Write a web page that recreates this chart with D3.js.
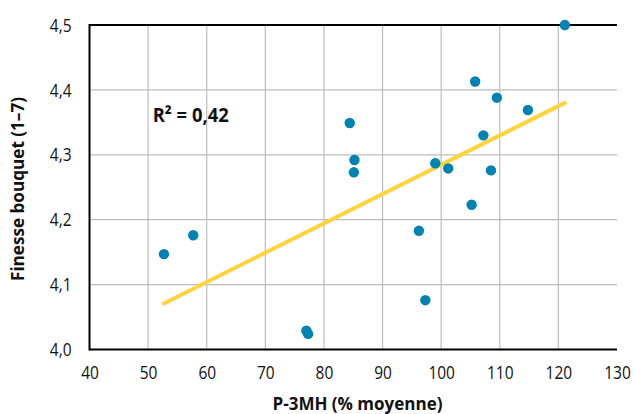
<!DOCTYPE html>
<html><head><meta charset="utf-8">
<script src="https://cdn.jsdelivr.net/npm/d3@7"></script>
<style>body{margin:0;background:#fff}text{font-family:"Open Sans","Noto Sans",sans-serif}</style>
</head><body><svg id="c" width="634" height="414"></svg>
<script>
const xValues=[121.1,105.8,109.5,114.8,107.2,84.4,85.2,85.1,99.0,101.2,108.5,105.2,96.2,97.3,52.7,57.7,77.0,77.3];
const yValues=[4.500,4.413,4.388,4.369,4.330,4.349,4.292,4.273,4.287,4.279,4.276,4.223,4.183,4.076,4.147,4.176,4.029,4.024];
const trendX=[52.7,121.1];
const trendY=[4.071,4.380];
const xTicks=[40,50,60,70,80,90,100,110,120,130];
const yTicks=[4.0,4.1,4.2,4.3,4.4,4.5];
const r2Label="R² = 0,42";
const xTitle="P-3MH (% moyenne)";
const yTitle="Finesse bouquet (1–7)";

const svg=d3.select("#c");
const x=d3.scaleLinear().domain([40,130]).range([89.5,617]);
const y=d3.scaleLinear().domain([4.0,4.5]).range([349.5,25]);
const fmt=d=>d.toFixed(1).replace(".",",");
function condense(sel,f){sel.each(function(){const w=this.getComputedTextLength();d3.select(this).attr("textLength",w*f).attr("lengthAdjust","spacingAndGlyphs");});}

// grid
svg.append("g").selectAll("line").data(xTicks.filter(d=>d>40&&d<130)).join("line")
 .attr("x1",d=>x(d)).attr("x2",d=>x(d)).attr("y1",y(4.5)).attr("y2",y(4.0))
 .attr("stroke","#bdbdbd").attr("stroke-width",1.2);
svg.append("g").selectAll("line").data(yTicks.filter(d=>d>4.0&&d<4.5)).join("line")
 .attr("x1",x(40)).attr("x2",x(130)).attr("y1",d=>y(d)).attr("y2",d=>y(d))
 .attr("stroke","#bdbdbd").attr("stroke-width",1.2);
// frame lines
svg.append("line").attr("x1",x(40)).attr("x2",x(130)).attr("y1",y(4.5)).attr("y2",y(4.5)).attr("stroke","#000").attr("stroke-width",2);
svg.append("line").attr("x1",x(40)).attr("x2",x(130)).attr("y1",y(4.0)).attr("y2",y(4.0)).attr("stroke","#000").attr("stroke-width",2);
svg.append("line").attr("x1",x(40)).attr("x2",x(40)).attr("y1",y(4.5)-1).attr("y2",y(4.0)+1).attr("stroke","#000").attr("stroke-width",2);

// axes labels via d3 axes
const xa=svg.append("g").attr("transform",`translate(0,${y(4.0)})`)
 .call(d3.axisBottom(x).tickValues(xTicks).tickSize(0).tickPadding(14).tickFormat(d3.format("d")));
xa.select(".domain").remove();
xa.selectAll("text").attr("font-size",18).attr("fill","#111").attr("dy",null).attr("y",29)
 .style("font-family","'Open Sans',sans-serif").call(condense,0.86);
const ya=svg.append("g").attr("transform",`translate(${x(40)},0)`)
 .call(d3.axisLeft(y).tickValues(yTicks).tickSize(0).tickPadding(18).tickFormat(fmt));
ya.select(".domain").remove();
ya.selectAll("text").attr("font-size",18).attr("fill","#111").attr("dy","0.34em")
 .style("font-family","'Open Sans',sans-serif").call(condense,0.86);

// trend line
svg.append("path").datum(trendX.map((d,i)=>[d,trendY[i]]))
 .attr("d",d3.line().x(d=>x(d[0])).y(d=>y(d[1])))
 .attr("stroke","#FFD43B").attr("stroke-width",4).attr("fill","none").attr("stroke-linecap","round");

// points
svg.append("g").selectAll("circle").data(xValues.map((d,i)=>[d,yValues[i]])).join("circle")
 .attr("cx",d=>x(d[0])).attr("cy",d=>y(d[1])).attr("r",5.2).attr("fill","#0083B2");

svg.append("text").attr("x",152.7).attr("y",122.3).attr("font-size",19.5).attr("font-weight","bold").attr("fill","#111")
 .text(r2Label).attr("textLength",76).attr("lengthAdjust","spacingAndGlyphs");
svg.append("text").attr("x",357.5).attr("y",410).attr("text-anchor","middle").attr("font-size",17).attr("font-weight","bold").attr("fill","#111")
 .text(xTitle).attr("textLength",170).attr("lengthAdjust","spacingAndGlyphs");
svg.append("text").attr("transform","translate(24,189) rotate(-90)").attr("text-anchor","middle").attr("font-size",18.5).attr("font-weight","bold").attr("fill","#111")
 .text(yTitle).attr("textLength",184).attr("lengthAdjust","spacingAndGlyphs");
</script></body></html>
